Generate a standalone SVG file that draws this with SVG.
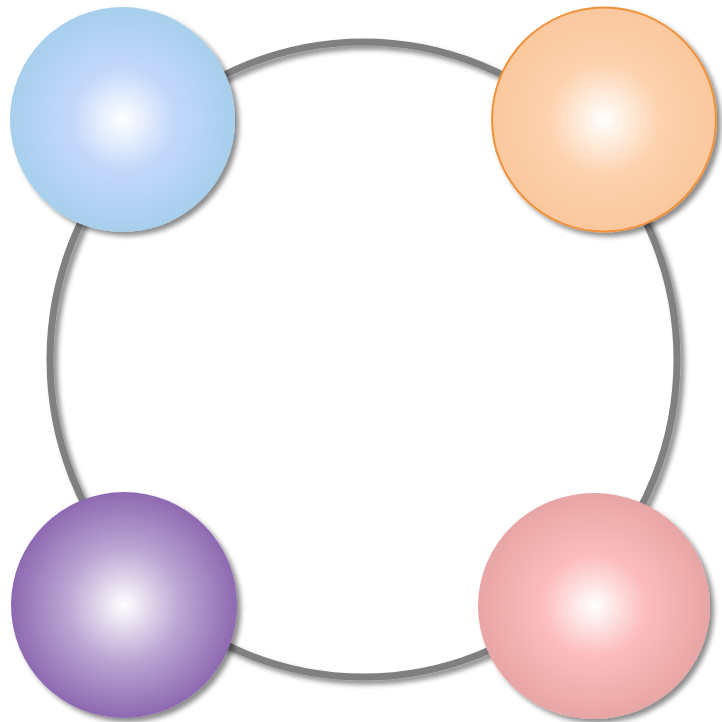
<svg xmlns="http://www.w3.org/2000/svg" width="722" height="722" viewBox="0 0 722 722">
<defs>
<filter id="sh" x="-20%" y="-20%" width="140%" height="140%">
<feDropShadow dx="4" dy="4" stdDeviation="2.5" flood-color="#000" flood-opacity="0.45"/>
</filter>
<radialGradient id="gBlue" cx="50%" cy="50%" r="50%">
<stop offset="0" stop-color="#ffffff"/>
<stop offset="0.45" stop-color="#c3d8fb"/>
<stop offset="1" stop-color="#a7cfec"/>
</radialGradient>
<radialGradient id="gOrange" cx="50%" cy="50%" r="50%">
<stop offset="0" stop-color="#ffffff"/>
<stop offset="0.5" stop-color="#fdd2ae"/>
<stop offset="1" stop-color="#fac89e"/>
</radialGradient>
<radialGradient id="gPurple" cx="50%" cy="50%" r="50%">
<stop offset="0" stop-color="#ffffff"/>
<stop offset="0.5" stop-color="#bca6d4"/>
<stop offset="1" stop-color="#8d69b1"/>
</radialGradient>
<radialGradient id="gPink" cx="50%" cy="50%" r="50%">
<stop offset="0" stop-color="#ffffff"/>
<stop offset="0.45" stop-color="#fcbcbd"/>
<stop offset="1" stop-color="#e8a5a5"/>
</radialGradient>
<style>
.ring{fill:none;stroke:#808080;stroke-width:7}
</style>
</defs>
<g id="connectors">
<ellipse class="ring" cx="363.5" cy="359.5" rx="313.5" ry="317.5" filter="url(#sh)"/>
</g>
<g id="node-blue">
<circle cx="122.5" cy="119.5" r="112.5" fill="url(#gBlue)" filter="url(#sh)"/>
</g>
<g id="node-orange">
<circle cx="604" cy="119.5" r="112" fill="url(#gOrange)" stroke="#f0923a" stroke-width="2" filter="url(#sh)"/>
</g>
<g id="node-purple">
<circle cx="124" cy="605" r="113" fill="url(#gPurple)" filter="url(#sh)"/>
</g>
<g id="node-pink">
<ellipse cx="594" cy="606" rx="116" ry="113" fill="url(#gPink)" filter="url(#sh)"/>
</g>
</svg>
